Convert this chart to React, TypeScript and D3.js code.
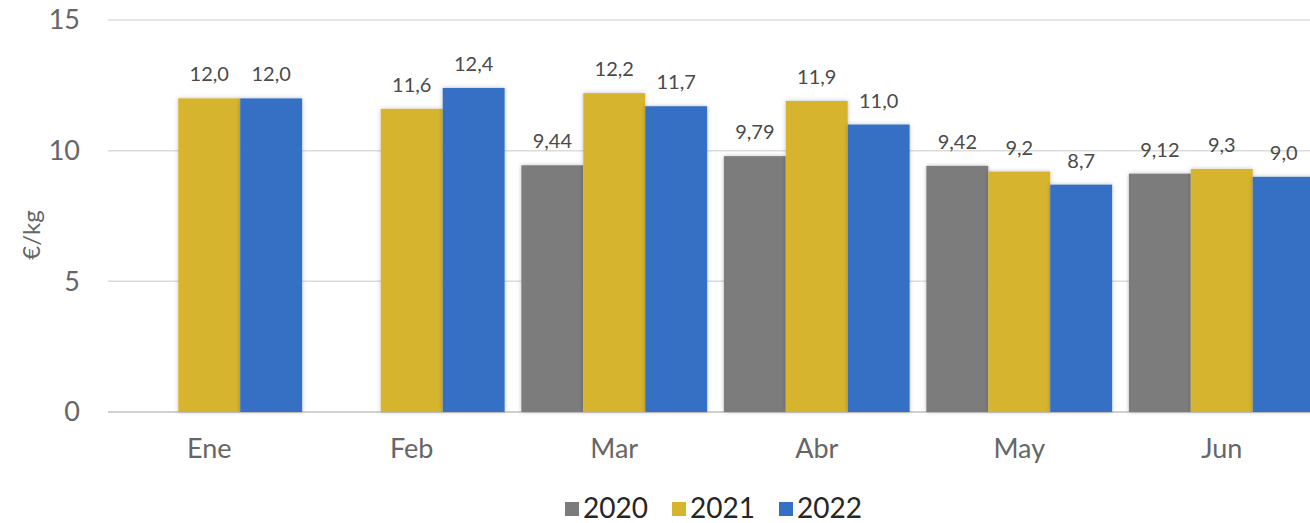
import React from "react";
import * as d3 from "d3";

const months = ["Ene", "Feb", "Mar", "Abr", "May", "Jun"];
const years = ["2020", "2021", "2022"];
const values2020: (number | null)[] = [null, null, 9.44, 9.79, 9.42, 9.12];
const values2021: (number | null)[] = [12.0, 11.6, 12.2, 11.9, 9.2, 9.3];
const values2022: (number | null)[] = [12.0, 12.4, 11.7, 11.0, 8.7, 9.0];
const labels2020 = ["", "", "9,44", "9,79", "9,42", "9,12"];
const labels2021 = ["12,0", "11,6", "12,2", "11,9", "9,2", "9,3"];
const labels2022 = ["12,0", "12,4", "11,7", "11,0", "8,7", "9,0"];
const yTicks = [0, 5, 10, 15];
const colors = ["#7b7b7b", "#d6b42e", "#3570c5"];

const series = [
  { year: years[0], values: values2020, labels: labels2020 },
  { year: years[1], values: values2021, labels: labels2021 },
  { year: years[2], values: values2022, labels: labels2022 },
];

const W = 1310;
const H = 523;
const left = 108;
const right = 1323;
const top = 20;
const bottom = 412;
const font = "Lato, 'Noto Sans', sans-serif";

const App = () => {
  const x0 = d3.scaleBand().domain(months).range([left, right]).padding(0);
  const x1 = d3
    .scaleBand()
    .domain(years)
    .range([0, x0.bandwidth()])
    .paddingInner(0)
    .paddingOuter(0.135);
  const y = d3.scaleLinear().domain([0, 15]).range([bottom, top]);

  const legendX = [565, 672, 779];

  return (
    <svg
      width={W}
      height={H}
      style={{ position: "absolute", left: 0, top: 0, background: "#fff" }}
    >
      <defs>
        <filter id="sh" x="-10%" y="-10%" width="120%" height="120%">
          <feDropShadow dx="0" dy="0" stdDeviation="2" floodColor="#000" floodOpacity="0.25" />
        </filter>
      </defs>
      {yTicks.map((t) => (
        <g key={t}>
          <line
            x1={left}
            x2={W}
            y1={y(t)}
            y2={y(t)}
            stroke={t === 0 ? "#d0d0d0" : "#dcdcdc"}
            strokeWidth={t === 0 ? 2 : 1.5}
          />
          <text
            x={80}
            y={y(t)}
            dy="0.35em"
            textAnchor="end"
            fontFamily={font}
            fontSize={27}
            fill="#666"
          >
            {t}
          </text>
        </g>
      ))}
      <text
        transform={`translate(40, 235) rotate(-90)`}
        textAnchor="middle"
        fontFamily={font}
        fontSize={24}
        fill="#666"
      >
        €/kg
      </text>
      {series.map((s, si) =>
        months.map((m, mi) => {
          const v = s.values[mi];
          if (v === null) return null;
          const bx = (x0(m) as number) + (x1(s.year) as number);
          return (
            <g key={s.year + m}>
              <rect
                x={bx}
                y={y(v)}
                width={x1.bandwidth()}
                height={y(0) - y(v)}
                fill={colors[si]}
                filter="url(#sh)"
              />
              <text
                x={bx + x1.bandwidth() / 2}
                y={y(v) - 17}
                textAnchor="middle"
                fontFamily={font}
                fontSize={20}
                fill="#4a4a4a"
              >
                {s.labels[mi]}
              </text>
            </g>
          );
        })
      )}
      {months.map((m) => (
        <text
          key={m}
          x={(x0(m) as number) + x0.bandwidth() / 2}
          y={458}
          textAnchor="middle"
          fontFamily={font}
          fontSize={27}
          fill="#666"
        >
          {m}
        </text>
      ))}
      {years.map((yr, i) => (
        <g key={yr}>
          <rect x={legendX[i]} y={502} width={14} height={14} fill={colors[i]} />
          <text
            x={legendX[i] + 18}
            y={518}
            fontFamily={font}
            fontSize={28}
            fill="#262626"
          >
            {yr}
          </text>
        </g>
      ))}
    </svg>
  );
};

export default App;
